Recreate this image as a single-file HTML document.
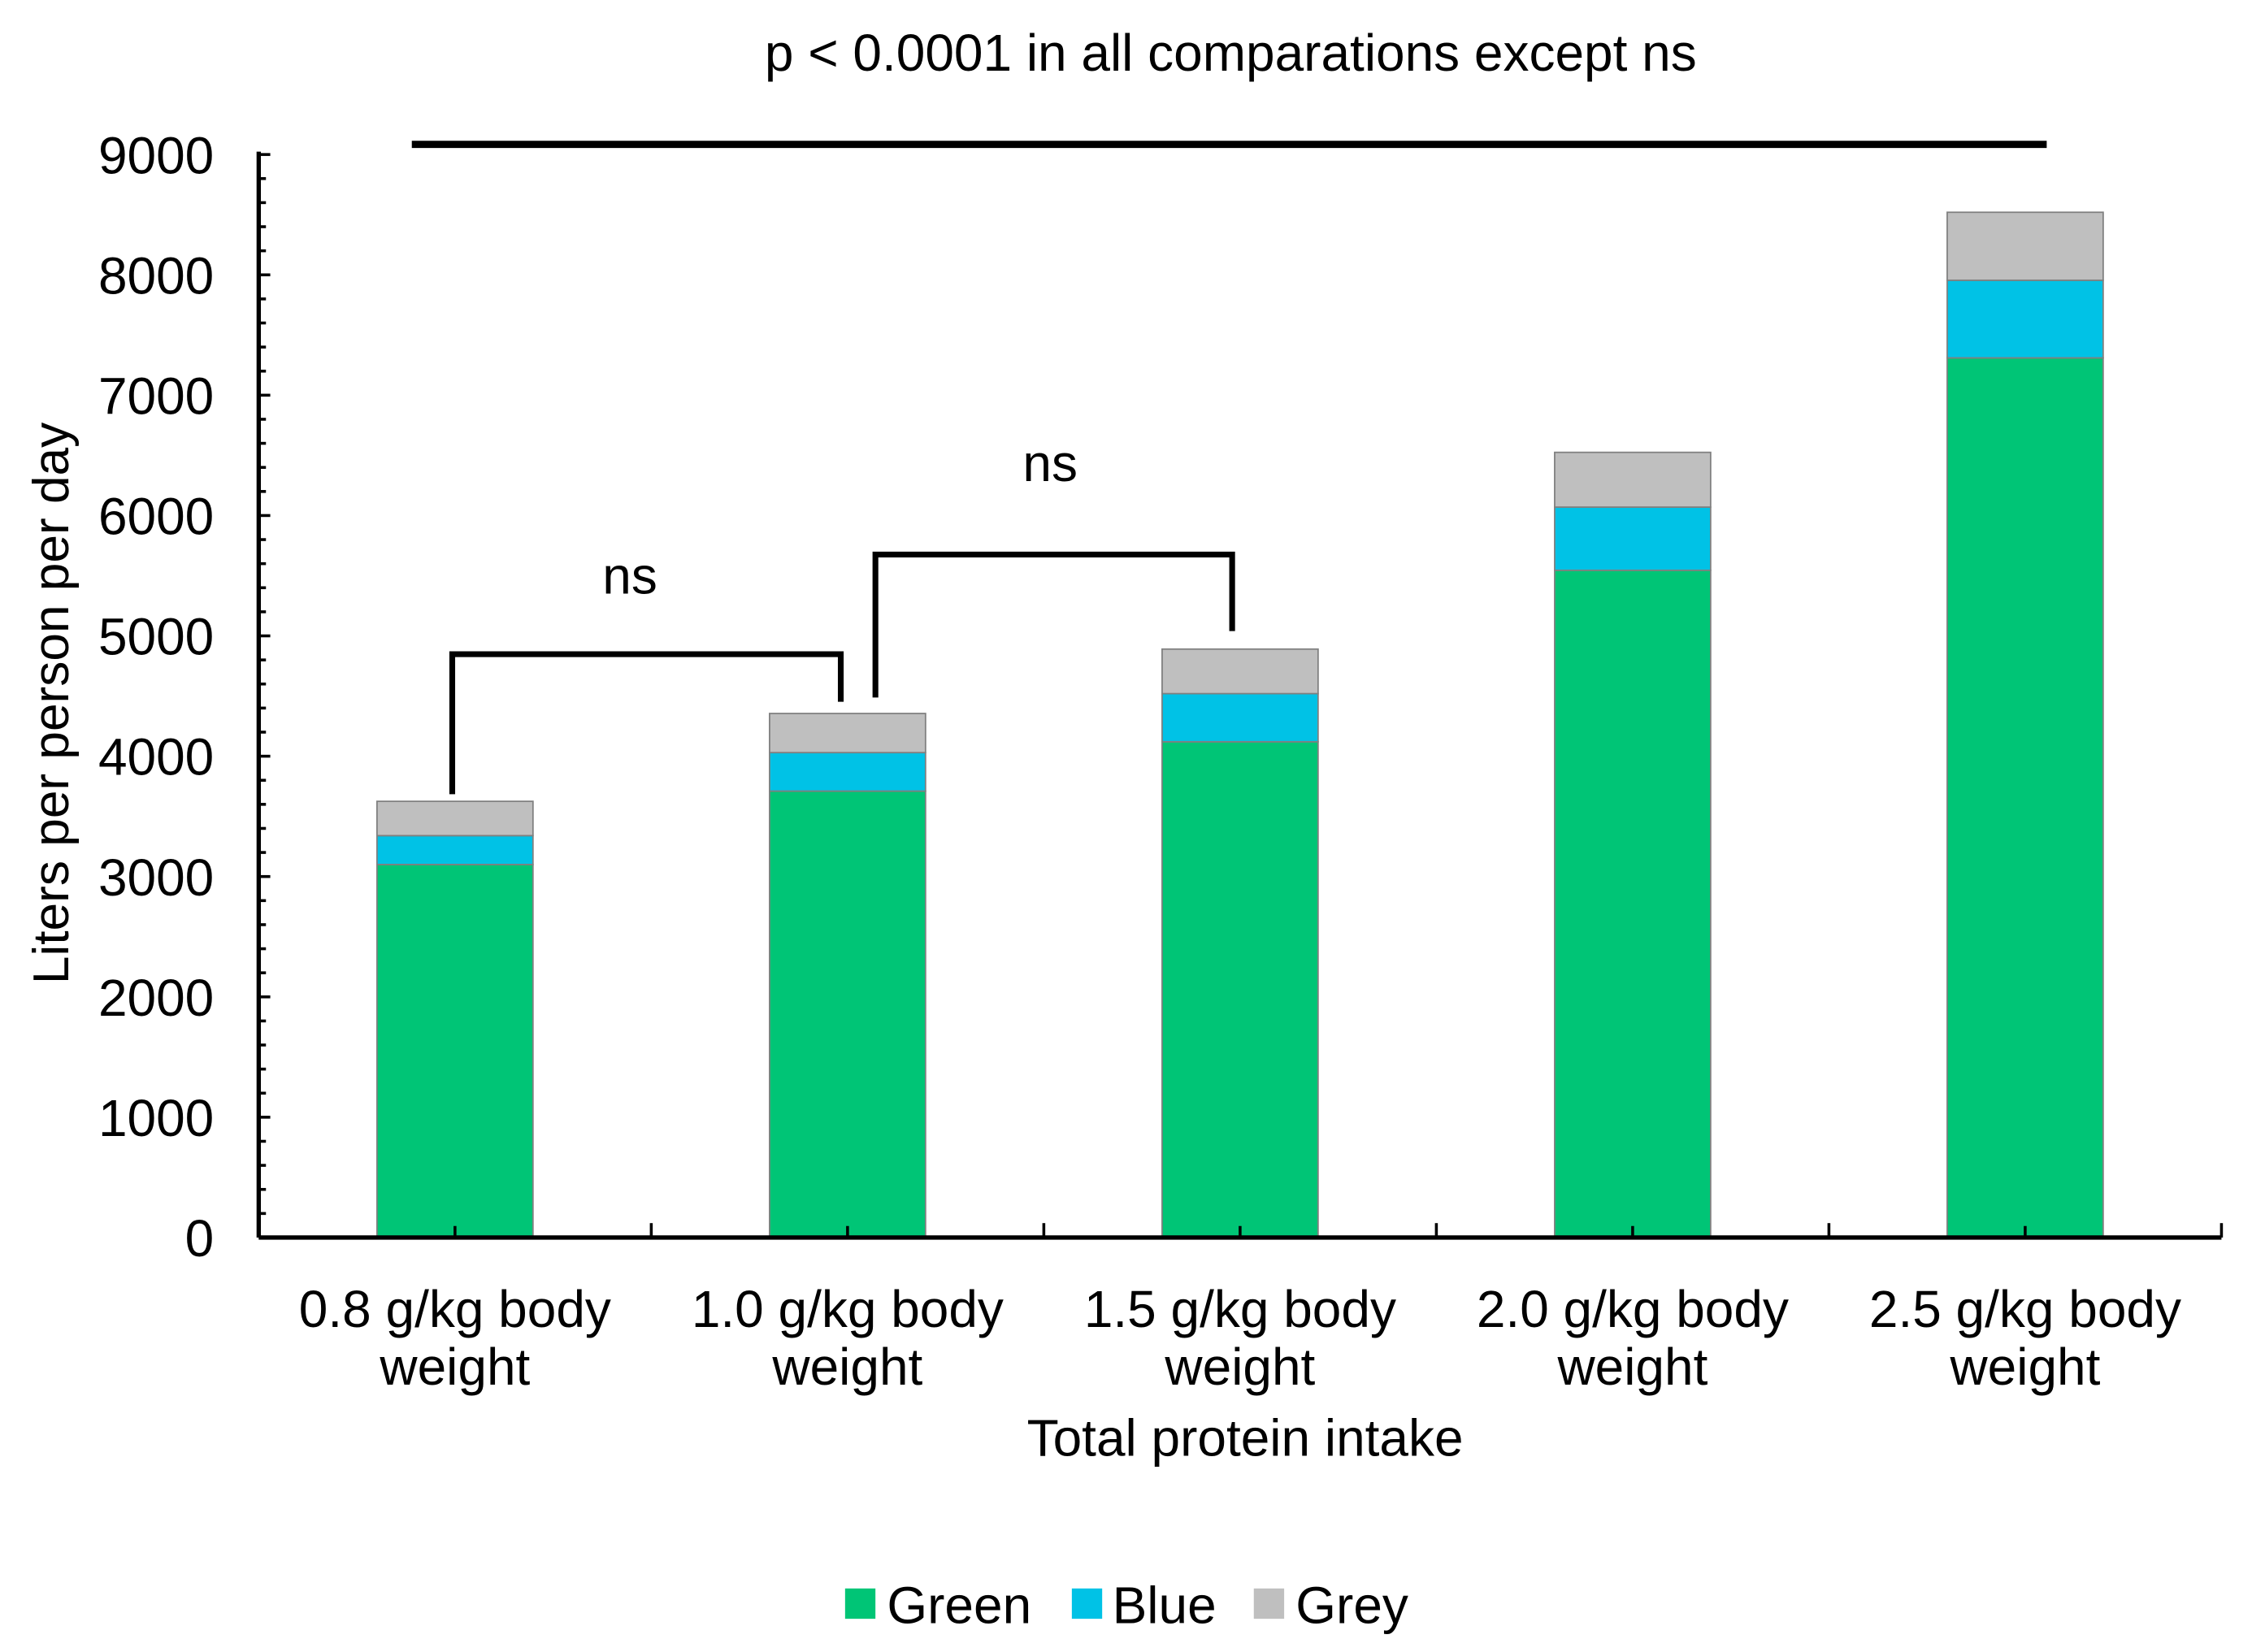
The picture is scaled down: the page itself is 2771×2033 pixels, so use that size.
<!DOCTYPE html>
<html><head><meta charset="utf-8"><style>html,body{margin:0;padding:0;background:#fff}svg{display:block}text{font-family:"Liberation Sans",Arial,sans-serif;fill:#000}</style></head>
<body>
<svg id="chart" width="2771" height="2033" viewBox="0 0 1559 1144" xmlns="http://www.w3.org/2000/svg">
<rect width="1559" height="1144" fill="#fff"/>
<text x="852" y="49" font-size="36" text-anchor="middle">p &lt; 0.0001 in all comparations except ns</text>
<line x1="285" y1="100" x2="1417" y2="100" stroke="#000" stroke-width="5"/>
<g id="bars"></g>
<g id="axes"></g>
<polyline points="313,550 313,453 582,453 582,486" fill="none" stroke="#000" stroke-width="4"/>
<polyline points="606,483 606,384 853,384 853,437" fill="none" stroke="#000" stroke-width="4"/>
<text x="436" y="411" font-size="36" text-anchor="middle">ns</text>
<text x="727" y="333" font-size="36" text-anchor="middle">ns</text>
<text transform="translate(47,487) rotate(-90)" font-size="35" text-anchor="middle">Liters per person per day</text>
<text x="862" y="1008" font-size="36" text-anchor="middle">Total protein intake</text>
<g>
<rect x="585" y="1100" width="21" height="21" fill="#00c576"/>
<text x="614" y="1124" font-size="36">Green</text>
<rect x="742" y="1100" width="21" height="21" fill="#00c2e6"/>
<text x="770" y="1124" font-size="36">Blue</text>
<rect x="868" y="1100" width="21" height="21" fill="#bfbfbf"/>
<text x="897" y="1124" font-size="36">Grey</text>
</g>
</svg>
<script>
const categories = ["0.8 g/kg body|weight","1.0 g/kg body|weight","1.5 g/kg body|weight","2.0 g/kg body|weight","2.5 g/kg body|weight"];
const greenValues = [3100, 3710, 4120, 5545, 7310];
const blueValues = [240, 320, 400, 525, 645];
const greyValues = [285, 325, 370, 455, 565];
const yTicks = [0,1000,2000,3000,4000,5000,6000,7000,8000,9000];
const NS="http://www.w3.org/2000/svg";
const x0=179,x1=1538,yb=857,yt=107,yMax=9000;
const y=v=>yb-(v/yMax)*(yb-yt);
const bw=(x1-x0)/categories.length;
const xc=i=>x0+bw*(i+0.5);
function mk(tag,attrs,parent){const e=document.createElementNS(NS,tag);for(const k in attrs)e.setAttribute(k,attrs[k]);parent.appendChild(e);return e;}
const bars=document.getElementById('bars'),axes=document.getElementById('axes');
const series=[["green",greenValues,"#00c576"],["blue",blueValues,"#00c2e6"],["grey",greyValues,"#bfbfbf"]];
categories.forEach((c,i)=>{let base=0;series.forEach(([n,vals,col])=>{const v=vals[i];
const r=mk('rect',{x:xc(i)-54,y:y(base+v),width:108,height:y(base)-y(base+v),fill:col,stroke:'#808080','stroke-width':1},bars);


base+=v;});
const t=mk('text',{x:xc(i),'font-size':36,'text-anchor':'middle'},axes);


c.split('|').forEach((s,j)=>{const ts=mk('tspan',{x:xc(i),y:919+40*j},t);ts.textContent=s;});
mk('line',{x1:xc(i),y1:yb,x2:xc(i),y2:yb-8,stroke:'#000','stroke-width':2},axes);
});
for(let i=0;i<=categories.length;i++){mk('line',{x1:x0+bw*i,y1:yb,x2:x0+bw*i,y2:yb-10,stroke:'#000','stroke-width':2},axes);}
for(let v=0;v<=yMax;v+=200){const major=v%1000===0;mk('line',{x1:x0,y1:y(v),x2:x0+(major?8:5),y2:y(v),stroke:'#000','stroke-width':2},axes);}
yTicks.forEach(v=>{const t=mk('text',{x:148,y:y(v)+13,'font-size':36,'text-anchor':'end'},axes);t.textContent=v;

});
const ya=mk('line',{x1:x0,y1:yt-2,x2:x0,y2:yb,stroke:'#000','stroke-width':3},axes);


const xa=mk('line',{x1:x0,y1:yb,x2:x1,y2:yb,stroke:'#000','stroke-width':3},axes);


</script>
</body></html>
